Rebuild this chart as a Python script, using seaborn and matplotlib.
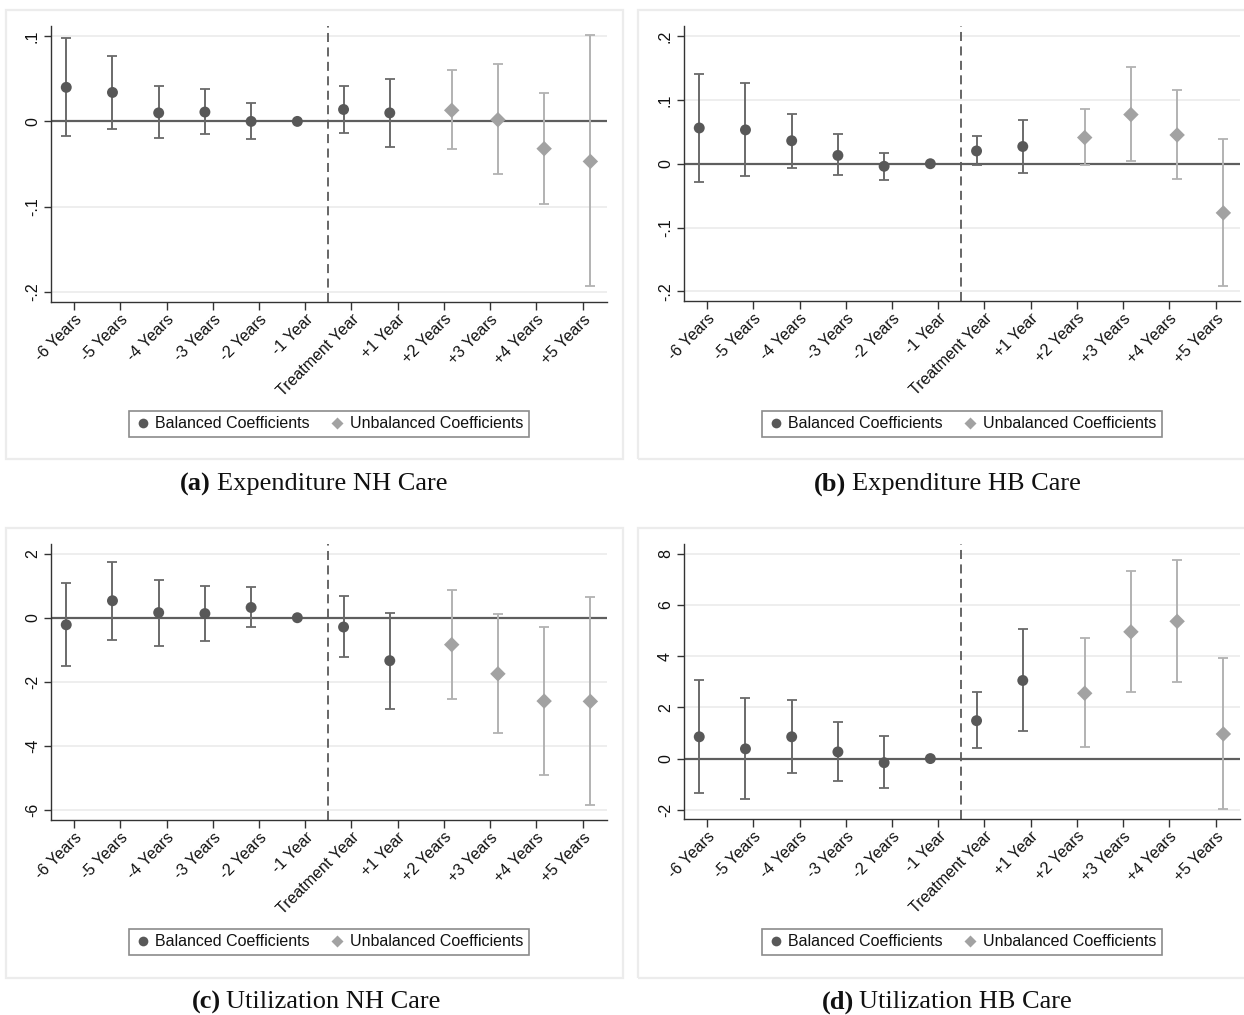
import numpy as np
import pandas as pd
import matplotlib
matplotlib.use("Agg")
import matplotlib.pyplot as plt
import seaborn as sns
from matplotlib.patches import Rectangle
from matplotlib.lines import Line2D

# ---------------- data ----------------
labels = ["-6 Years", "-5 Years", "-4 Years", "-3 Years", "-2 Years", "-1 Year",
          "Treatment Year", "+1 Year", "+2 Years", "+3 Years", "+4 Years", "+5 Years"]
groups = ["Balanced"] * 8 + ["Unbalanced"] * 4

# (a) Expenditure NH Care
a_coef = [0.040, 0.034, 0.010, 0.011, 0.000, 0.0, 0.014, 0.010, 0.013, 0.002, -0.032, -0.047]
a_lo = [-0.017, -0.009, -0.020, -0.015, -0.021, np.nan, -0.014, -0.030, -0.032, -0.062, -0.097, -0.193]
a_hi = [0.098, 0.077, 0.041, 0.038, 0.022, np.nan, 0.042, 0.050, 0.060, 0.067, 0.033, 0.101]

# (b) Expenditure HB Care
b_coef = [0.056, 0.053, 0.036, 0.013, -0.004, 0.0, 0.020, 0.027, 0.041, 0.077, 0.045, -0.077]
b_lo = [-0.029, -0.019, -0.006, -0.018, -0.026, np.nan, -0.002, -0.014, -0.002, 0.004, -0.024, -0.192]
b_hi = [0.141, 0.126, 0.078, 0.046, 0.017, np.nan, 0.043, 0.068, 0.085, 0.151, 0.115, 0.039]

# (c) Utilization NH Care
c_coef = [-0.22, 0.53, 0.16, 0.13, 0.32, 0.0, -0.29, -1.34, -0.84, -1.75, -2.60, -2.61]
c_lo = [-1.51, -0.68, -0.88, -0.74, -0.30, np.nan, -1.24, -2.84, -2.53, -3.60, -4.91, -5.85]
c_hi = [1.09, 1.74, 1.19, 0.99, 0.95, np.nan, 0.67, 0.16, 0.85, 0.13, -0.29, 0.65]

# (d) Utilization HB Care
d_coef = [0.85, 0.38, 0.85, 0.26, -0.16, 0.0, 1.48, 3.05, 2.55, 4.95, 5.36, 0.96]
d_lo = [-1.34, -1.59, -0.57, -0.89, -1.16, np.nan, 0.40, 1.08, 0.46, 2.59, 2.98, -1.97]
d_hi = [3.06, 2.37, 2.30, 1.42, 0.87, np.nan, 2.59, 5.05, 4.69, 7.32, 7.75, 3.91]

y_ticks_ab = [-0.2, -0.1, 0.0, 0.1]
y_ticks_b = [-0.2, -0.1, 0.0, 0.1, 0.2]
y_ticks_c = [-6, -4, -2, 0, 2]
y_ticks_d = [-2, 0, 2, 4, 6, 8]

legend_labels = ["Balanced Coefficients", "Unbalanced Coefficients"]
captions = [("(a)", "Expenditure NH Care"), ("(b)", "Expenditure HB Care"),
            ("(c)", "Utilization NH Care"), ("(d)", "Utilization HB Care")]

# ---------------- style ----------------
sns.set_theme(style="white")
plt.rcParams["font.family"] = ["Liberation Sans", "DejaVu Sans"]

W, H = 1244, 1015
fig = plt.figure(figsize=(W / 100, H / 100), dpi=100)

BAL_M, BAL_E = "#585858", "#6a6a6a"
UNB_M, UNB_E = "#a2a2a2", "#b2b2b2"


def stata_fmt(v):
    if abs(v) < 1e-12:
        return "0"
    if float(v).is_integer():
        return str(int(v))
    s = f"{v:g}"
    return s.replace("0.", ".")


def fig_rect(x0, y0, x1, y1):
    return [x0 / W, 1 - y1 / H, (x1 - x0) / W, (y1 - y0) / H]


panels = [
    (a_coef, a_lo, a_hi, y_ticks_ab, (-0.212, 0.112), (51, 26, 607, 302), (6, 10, 623, 459), 484, (211, 217)),
    (b_coef, b_lo, b_hi, y_ticks_b, (-0.215, 0.2157), (684, 26, 1240, 301), (638, 10, 1260, 459), 484, (846, 852)),
    (c_coef, c_lo, c_hi, y_ticks_c, (-6.31, 2.30), (51, 544, 607, 820), (6, 528, 623, 978), 1002, (221, 226)),
    (d_coef, d_lo, d_hi, y_ticks_d, (-2.36, 8.38), (684, 544, 1240, 819), (638, 528, 1260, 978), 1002, (854, 859)),
]

for (coef, lo, hi, yt, ylim, box, frame, cap_y, cap_x), (tag, title) in zip(panels, captions):
    # panel frame
    fig.patches.append(Rectangle((frame[0] / W, 1 - frame[3] / H), (frame[2] - frame[0]) / W,
                                 (frame[3] - frame[1]) / H, transform=fig.transFigure,
                                 facecolor="none", edgecolor="#ececec", lw=1.6, zorder=-1))
    ax = fig.add_axes(fig_rect(*box))
    ax.set_facecolor("none")
    df = pd.DataFrame({"idx": np.arange(len(labels)), "label": labels, "coef": coef,
                       "lo": lo, "hi": hi, "group": groups})
    df["pos"] = df["idx"] + np.where(df["group"] == "Balanced", -0.17, 0.17)

    # grid
    for t in yt:
        if t != 0:
            ax.axhline(t, color="#ebebeb", lw=1.2, zorder=0)
    ax.axhline(0, color="#5e5e5e", lw=1.6, zorder=1)
    ax.axvline(5.5, color="#5a5a5a", lw=1.3, ls=(0, (5, 3)), zorder=1)

    for g, ec in (("Balanced", BAL_E), ("Unbalanced", UNB_E)):
        sub = df[(df["group"] == g) & df["lo"].notna()]
        ax.errorbar(sub["pos"], sub["coef"], yerr=[sub["coef"] - sub["lo"], sub["hi"] - sub["coef"]],
                    fmt="none", ecolor=ec, elinewidth=1.4, capsize=3.4, capthick=1.3, zorder=2)

    sns.scatterplot(data=df, x="pos", y="coef", hue="group", style="group",
                    palette={"Balanced": BAL_M, "Unbalanced": UNB_M},
                    markers={"Balanced": "o", "Unbalanced": "D"},
                    s=62, edgecolor="none", linewidth=0, legend=False, ax=ax, zorder=3)

    ax.set_xlim(-0.5, 11.53)
    ax.set_ylim(*ylim)
    ax.set_xticks(df["idx"])
    ax.set_xticklabels(labels, rotation=45, ha="right", rotation_mode="anchor", fontsize=11.5,
                       color="#111111")
    ax.set_yticks(yt)
    ax.set_yticklabels([stata_fmt(v) for v in yt], rotation=90, va="center", fontsize=11.5,
                       color="#111111")
    ax.set_xlabel("")
    ax.set_ylabel("")
    ax.tick_params(axis="x", direction="out", length=6, width=1.0, color="#333333", pad=1, bottom=True)
    ax.tick_params(axis="y", direction="out", length=5, width=1.0, color="#333333", pad=3, left=True)
    for sp in ("top", "right"):
        ax.spines[sp].set_visible(False)
    for sp in ("left", "bottom"):
        ax.spines[sp].set_color("#333333")
        ax.spines[sp].set_linewidth(1.0)

    handles = [Line2D([], [], ls="none", marker="o", ms=7, color=BAL_M, mec="none"),
               Line2D([], [], ls="none", marker="D", ms=6.5, color=UNB_M, mec="none")]
    cx = (box[0] + box[2]) / 2 / W
    cy = 1 - (box[1] + 398) / H
    leg = fig.legend(handles, legend_labels, ncol=2, loc="center", bbox_to_anchor=(cx, cy),
                     frameon=True, fancybox=False, fontsize=11.5, handletextpad=0.3,
                     columnspacing=1.2, handlelength=1.0, borderpad=0.35, borderaxespad=0)
    leg.get_frame().set_edgecolor("#6e6e6e")
    leg.get_frame().set_linewidth(1.2)
    for t in leg.get_texts():
        t.set_color("#111111")

    fig.text(cap_x[0] / W, 1 - cap_y / H, tag, ha="right", va="center", fontsize=19,
             fontweight="bold", family=["Liberation Serif", "DejaVu Serif"], color="#111111")
    fig.text(cap_x[1] / W, 1 - cap_y / H, title, ha="left", va="center", fontsize=19,
             family=["Liberation Serif", "DejaVu Serif"], color="#111111")

fig.savefig("out.png", dpi=100, facecolor="white")
